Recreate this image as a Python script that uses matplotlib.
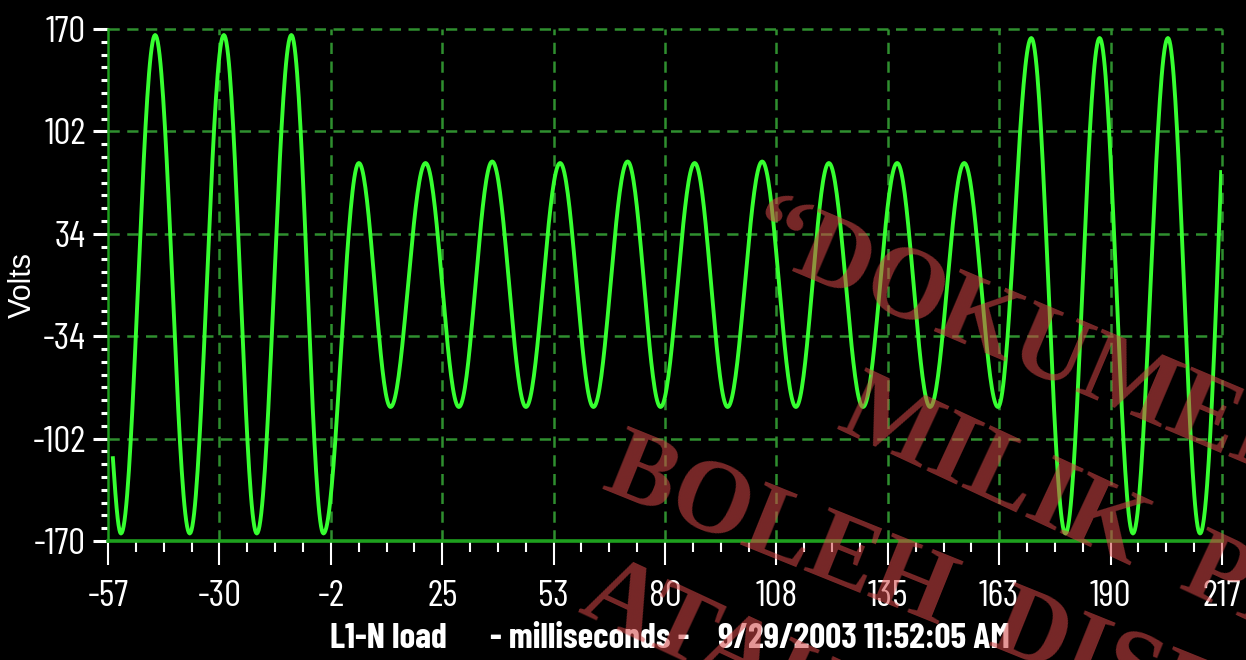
import numpy as np
import matplotlib
matplotlib.use("Agg")
import matplotlib.pyplot as plt
from matplotlib.ticker import FixedLocator

# waveform turning points (ms, volts): first sample, alternating troughs/peaks, last sample
start_point = (-55.8, -115.0)
extrema_t = [-53.8, -45.4, -36.9, -28.5, -20.4, -11.9, -4.0,
             4.7, 12.5, 21.1, 29.3, 37.5, 45.8, 54.2, 62.4, 70.8, 78.9,
             87.3, 95.4, 103.9, 112.2, 120.3, 128.7, 137.1, 145.2, 153.6, 161.9,
             170.1, 178.5, 186.9, 195.1, 203.7, 211.6]
extrema_v = [-165, 166, -165, 166, -165, 166, -165,
             81, -81, 81, -81, 82, -81, 81, -81, 82, -81,
             81, -81, 82, -81, 81, -81, 81, -81, 81, -81,
             164, -165, 164, -165, 164, -165]
end_point = (216.8, 75.0)

x_labels = ["-57", "-30", "-2", "25", "53", "80", "108", "135", "163", "190", "217"]
y_ticks = [-170, -102, -34, 34, 102, 170]
y_labels = ["-170", "-102", "-34", "34", "102", "170"]

GREEN = "#36ff30"
GRID = "#2f8f2f"
AXIS = "#1ea01e"
NARROW = ["Barlow Condensed", "PT Sans Narrow", "DejaVu Sans"]


def build_trace():
    """Join the turning points with half-cosine segments (quarter waves at the ends)."""
    ts, vs = [], []
    s = np.linspace(0, 1, 40)
    # lead-in: falling into the first trough
    t0, v0 = start_point
    ts.append(t0 + (extrema_t[0] - t0) * s)
    vs.append(v0 + (extrema_v[0] - v0) * np.sin(np.pi / 2 * s))
    for i in range(len(extrema_t) - 1):
        ta, tb = extrema_t[i], extrema_t[i + 1]
        va, vb = extrema_v[i], extrema_v[i + 1]
        ts.append(ta + (tb - ta) * s)
        vs.append(va + (vb - va) * (1 - np.cos(np.pi * s)) / 2)
    # tail: rising out of the last trough
    t1, v1 = end_point
    ta, va = extrema_t[-1], extrema_v[-1]
    ts.append(ta + (t1 - ta) * s)
    vs.append(va + (v1 - va) * (1 - np.cos(np.pi / 2 * s)))
    return np.concatenate(ts), np.concatenate(vs)


W, H = 1246, 660
fig = plt.figure(figsize=(W / 100, H / 100), dpi=100, facecolor="black")
ax = fig.add_axes([108 / W, 1 - 541 / H, (1222 - 108) / W, (541 - 29) / H])
ax.set_facecolor("black")

x_min, x_max = -57, 217
x_ticks = np.linspace(x_min, x_max, len(x_labels))
ax.set_xlim(x_min, x_max)
ax.set_ylim(-170, 170)

# dashed grid, including the top and right borders
for yv in y_ticks[1:]:
    ax.axhline(yv, color=GRID, lw=1.8, ls=(0, (4.5, 3)), clip_on=False, zorder=1)
for xv in x_ticks[1:]:
    ax.axvline(xv, color=GRID, lw=1.8, ls=(0, (4.5, 3)), clip_on=False, zorder=1)

t, v = build_trace()
ax.plot(t, v, color=GREEN, lw=2.8, zorder=3)

for side in ("top", "right"):
    ax.spines[side].set_visible(False)
ax.spines["left"].set_color(AXIS)
ax.spines["left"].set_linewidth(1.8)
ax.spines["bottom"].set_color(AXIS)
ax.spines["bottom"].set_linewidth(2.6)

ax.xaxis.set_major_locator(FixedLocator(x_ticks))
ax.xaxis.set_minor_locator(FixedLocator(np.linspace(x_min, x_max, 41)))
ax.yaxis.set_major_locator(FixedLocator(y_ticks))
ax.yaxis.set_minor_locator(FixedLocator(np.linspace(-170, 170, 41)))
ax.set_xticklabels(x_labels, family=NARROW, fontsize=27, color="white")
ax.set_yticklabels(y_labels, family=NARROW, fontsize=27, color="white")

ax.tick_params(axis="x", which="major", direction="out", length=17, width=1.5,
               color="white", pad=11)
ax.tick_params(axis="x", which="minor", direction="out", length=8, width=1.5,
               color="white")
ax.tick_params(axis="y", which="major", direction="out", length=11, width=2.2,
               color="white", pad=5)
ax.tick_params(axis="y", which="minor", direction="out", length=5, width=2.2,
               color="white")

fig.text(23 / W, 1 - 285 / H, "Volts", rotation=90, ha="center", va="center",
         color="white", fontsize=22, family=["Liberation Sans", "DejaVu Sans"])

footer = dict(color="white", fontsize=25.5, weight="bold", family=NARROW,
              ha="left", va="center")
fig.text(330 / W, 1 - 639 / H, "L1-N load", **footer)
fig.text(490 / W, 1 - 639 / H, "- milliseconds -", **footer)
fig.text(718 / W, 1 - 639 / H, "9/29/2003 11:52:05 AM", **footer)

# red archive stamp laid over the chart
stamp = dict(color="#d24646", alpha=0.57, fontsize=74, weight="bold",
             family=["Liberation Serif", "DejaVu Serif"],
             rotation_mode="anchor", ha="left", va="baseline", zorder=10)
fig.text(742 / W, 1 - 252 / H, "\u201cDOKUMEN", rotation=-23, **stamp)
fig.text(835 / W, 1 - 428 / H, "MILIK  PE", rotation=-25, **stamp)
fig.text(600 / W, 1 - 488 / H, "BOLEH  DISEBAR", rotation=-22, **stamp)
fig.text(576 / W, 1 - 612 / H, "ATAU", rotation=-25, **stamp)

fig.savefig("out.png", dpi=100, facecolor="black")
